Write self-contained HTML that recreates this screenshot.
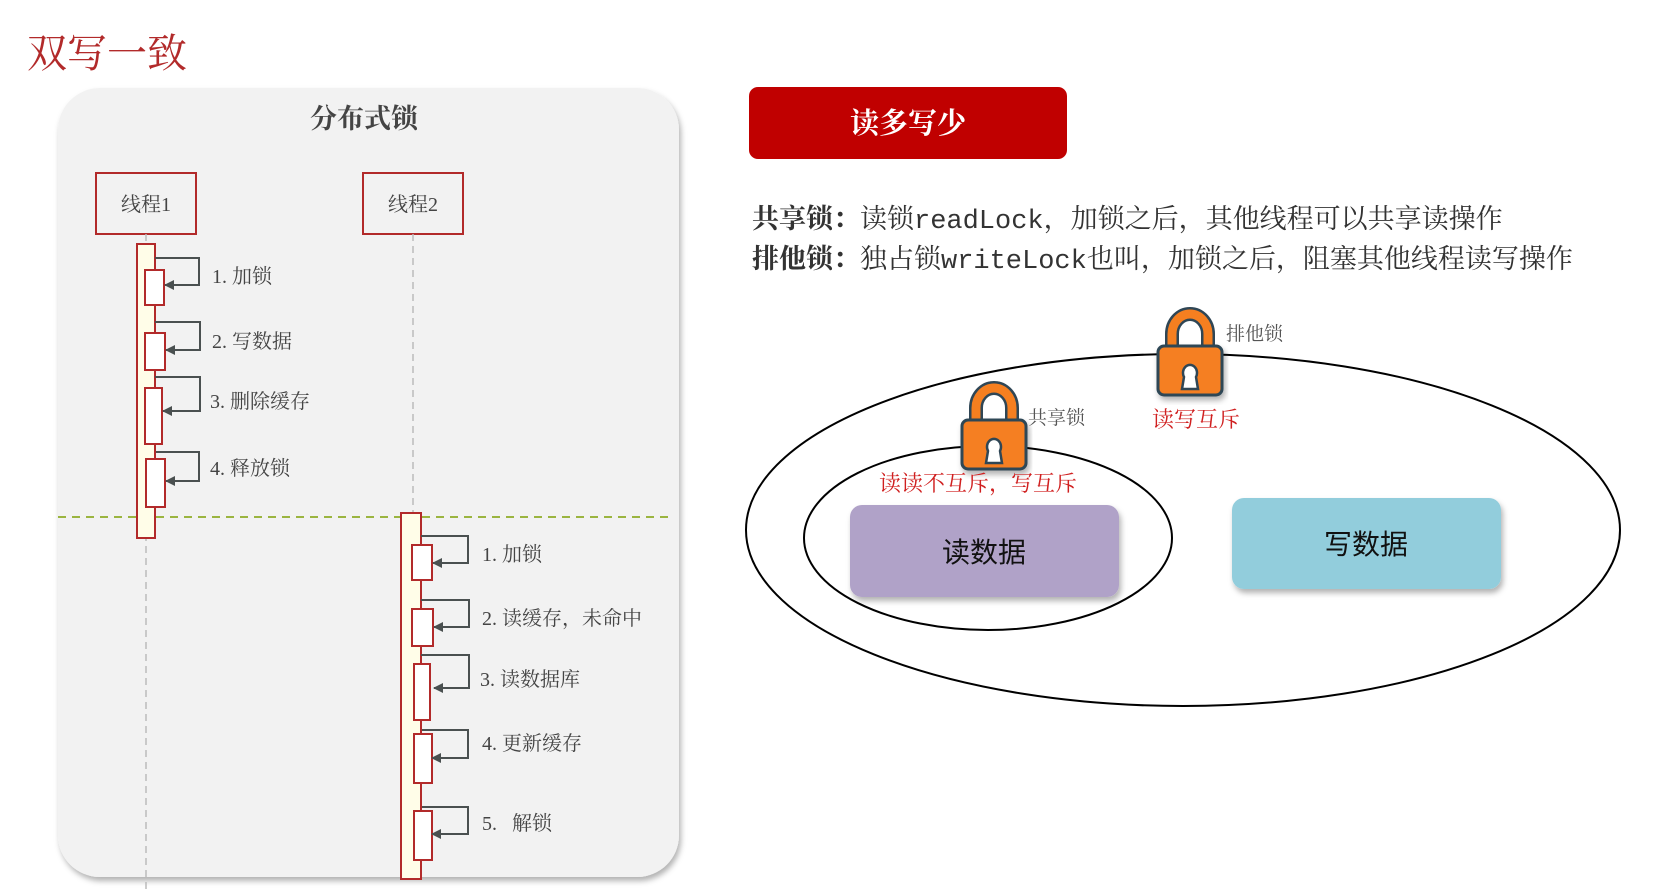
<!DOCTYPE html>
<html><head><meta charset="utf-8"><style>
html,body{margin:0;padding:0;background:#fff;}
svg{display:block;}
.s{font-family:"Liberation Serif","Noto Serif CJK SC",serif;}
.g{font-family:"Liberation Sans","Noto Sans CJK SC",sans-serif;}
</style></head><body>
<svg width="1656" height="891" viewBox="0 0 1656 891" xmlns="http://www.w3.org/2000/svg">
<defs>
<filter id="sh" x="-10%" y="-10%" width="120%" height="130%"><feDropShadow dx="2" dy="4" stdDeviation="3" flood-color="#000" flood-opacity="0.3"/></filter>
<marker id="ar" viewBox="0 0 10 10" refX="9" refY="5" markerWidth="5" markerHeight="5" orient="auto"><path d="M0,0 L10,5 L0,10 z" fill="#4a5050"/></marker>
</defs>
<text x="27" y="67" class="s" font-size="40" fill="#b22a2a">双写一致</text>
<rect x="58" y="88" width="621" height="789" rx="42" fill="#f2f2f2" filter="url(#sh)"/>
<text x="364" y="128" text-anchor="middle" class="s" font-size="27" font-weight="bold" fill="#444">分布式锁</text>
<rect x="96" y="173" width="100" height="61" fill="none" stroke="#b22a2a" stroke-width="2"/>
<text x="146" y="211" text-anchor="middle" class="s" font-size="20" fill="#444">线程1</text>
<rect x="363" y="173" width="100" height="61" fill="none" stroke="#b22a2a" stroke-width="2"/>
<text x="413" y="211" text-anchor="middle" class="s" font-size="20" fill="#444">线程2</text>
<line x1="146" y1="234" x2="146" y2="891" stroke="#bbb" stroke-width="1.5" stroke-dasharray="7,5"/>
<line x1="413" y1="234" x2="413" y2="516" stroke="#bbb" stroke-width="1.5" stroke-dasharray="7,5"/>
<line x1="58" y1="517" x2="669" y2="517" stroke="#9bb540" stroke-width="2" stroke-dasharray="8,6"/>
<rect x="137" y="244" width="18" height="294" fill="#fffde8" stroke="#b22a2a" stroke-width="2"/>
<g stroke="#b22a2a" stroke-width="2" fill="#fff">
<rect x="145" y="270" width="19" height="35"/><rect x="145" y="333" width="20" height="37"/>
<rect x="145" y="388" width="17" height="56"/><rect x="146" y="459" width="19" height="48"/>
</g>
<g stroke="#4a5050" stroke-width="2" fill="none" marker-end="url(#ar)">
<path d="M155,258 H199 V285 H165"/><path d="M155,322 H200 V350 H166"/>
<path d="M155,377 H200 V411 H163"/><path d="M156,452 H199 V481 H166"/>
</g>
<g class="s" font-size="20" fill="#444">
<text x="212" y="283">1. 加锁</text><text x="212" y="348">2. 写数据</text>
<text x="210" y="408">3. 删除缓存</text><text x="210" y="475">4. 释放锁</text>
</g>
<rect x="401" y="513" width="20" height="366" fill="#fffde8" stroke="#b22a2a" stroke-width="2"/>
<g stroke="#b22a2a" stroke-width="2" fill="#fff">
<rect x="412" y="545" width="20" height="35"/><rect x="412" y="609" width="21" height="37"/>
<rect x="414" y="664" width="16" height="56"/><rect x="414" y="734" width="18" height="49"/>
<rect x="414" y="811" width="18" height="49"/>
</g>
<g stroke="#4a5050" stroke-width="2" fill="none" marker-end="url(#ar)">
<path d="M421,536 H468 V563 H433"/><path d="M421,600 H469 V627 H434"/>
<path d="M421,655 H469 V688 H434"/><path d="M422,730 H468 V758 H432"/>
<path d="M422,807 H468 V834 H432"/>
</g>
<g class="s" font-size="20" fill="#444">
<text x="482" y="561">1. 加锁</text><text x="482" y="625">2. 读缓存，未命中</text>
<text x="480" y="686">3. 读数据库</text><text x="482" y="750">4. 更新缓存</text>
<text x="482" y="830" xml:space="preserve">5.   解锁</text>
</g>
<rect x="749" y="87" width="318" height="72" rx="9" fill="#c00000"/>
<text x="908" y="133" text-anchor="middle" class="s" font-size="29" font-weight="bold" fill="#fff">读多写少</text>
<text x="752" y="228" class="s" font-size="27" fill="#333"><tspan font-weight="bold">共享锁：</tspan>读锁<tspan font-family="Liberation Mono,monospace">readLock</tspan>，加锁之后，其他线程可以共享读操作</text>
<text x="752" y="268" class="s" font-size="27" fill="#333"><tspan font-weight="bold">排他锁：</tspan>独占锁<tspan font-family="Liberation Mono,monospace">writeLock</tspan>也叫，加锁之后，阻塞其他线程读写操作</text>
<ellipse cx="1183" cy="530" rx="437" ry="176" fill="none" stroke="#000" stroke-width="2"/>
<ellipse cx="988" cy="538" rx="184" ry="92" fill="none" stroke="#000" stroke-width="2"/>
<rect x="850" y="505" width="269" height="92" rx="12" fill="#b0a2c8" filter="url(#sh)"/>
<text x="984" y="562" text-anchor="middle" class="g" font-size="28" fill="#111">读数据</text>
<rect x="1232" y="498" width="269" height="91" rx="12" fill="#92cddc" filter="url(#sh)"/>
<text x="1366" y="554" text-anchor="middle" class="g" font-size="28" fill="#111">写数据</text>
<g id="lk" stroke="#2f4655" stroke-width="3">
<path d="M976,422 V408 a18,20 0 0 1 36,0 V422" fill="none" stroke="#2f4655" stroke-width="14"/>
<path d="M976,422 V408 a18,20 0 0 1 36,0 V422" fill="none" stroke="#f57f20" stroke-width="9"/>
<rect x="962" y="420" width="64" height="49" rx="6" fill="#f57f20" filter="url(#sh)"/>
<path d="M988,451 a7,8 0 1 1 12,0 l2,12 h-16 z" fill="#fff" stroke-width="2.5"/>
</g>
<use href="#lk" transform="translate(196,-74)"/>
<text x="1028" y="424" class="s" font-size="19" fill="#555">共享锁</text>
<text x="1226" y="340" class="s" font-size="19" fill="#555">排他锁</text>
<text x="1152" y="427" class="s" font-size="22" fill="#d02020">读写互斥</text>
<text x="879" y="491" class="s" font-size="22" fill="#d02020">读读不互斥，写互斥</text>
</svg>
</body></html>
